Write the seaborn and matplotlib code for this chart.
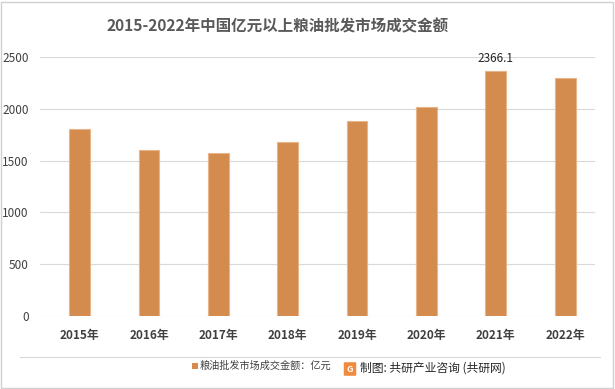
import matplotlib
matplotlib.use("Agg")
import matplotlib.pyplot as plt
import seaborn as sns
import pandas as pd
from matplotlib.patches import Rectangle, FancyBboxPatch

years = ["2015年", "2016年", "2017年", "2018年", "2019年", "2020年", "2021年", "2022年"]
values = [1805, 1602, 1573, 1680, 1882, 2022, 2366.1, 2300]
yticks = [0, 500, 1000, 1500, 2000, 2500]
title = "2015-2022年中国亿元以上粮油批发市场成交金额"
legend_label = "粮油批发市场成交金额：亿元"
source = "制图: 共研产业咨询 (共研网)"

sns.set_theme(style="white")
plt.rcParams['font.family'] = ['Noto Sans CJK SC', 'DejaVu Sans']

df = pd.DataFrame({"year": years, "value": values})

fig = plt.figure(figsize=(6.15, 3.89), dpi=100)
ax = fig.add_axes([40/615, 73/389, 555/615, 259/389])

bar_color = "#D38B4E"
sns.barplot(data=df, x="year", y="value", color=bar_color, width=0.3,
            edgecolor="#E8B48A", linewidth=0.8, ax=ax, saturation=1)

ax.set_ylim(0, 2500)
ax.set_yticks(yticks)
ax.set_yticklabels([str(t) for t in yticks], fontsize=8.5, color="#404040")
ax.set_xlim(-0.57, 7.43)
ax.tick_params(axis='x', labelsize=8.5, colors="#404040", length=0, pad=9)
ax.tick_params(axis='y', length=0, pad=8)
ax.set_xlabel("")
ax.set_ylabel("")
ax.yaxis.grid(True, color="#D9D9D9", linewidth=0.8)
ax.set_axisbelow(True)
for s in ax.spines.values():
    s.set_visible(False)
for lab in ax.get_xticklabels():
    lab.set_fontweight("bold")

# data label on 2021
idx = years.index("2021年")
ax.text(idx, values[idx] + 60, f"{values[idx]:.1f}", ha="center", va="bottom",
        fontsize=8.5, color="#262626")

fig.text(0.452, 1 - 26/389, title, ha="center", va="center", fontsize=11.2,
         fontweight="bold", color="#595959")

# frame around the figure
fig.patches.append(Rectangle((1/615, 1/389), 612/615, 386/389, transform=fig.transFigure,
                             fill=False, edgecolor="#D0D0D0", linewidth=1))
# separator line
fig.add_artist(plt.Line2D([20/615, 600/615], [1 - 357/389, 1 - 357/389],
                          transform=fig.transFigure, color="#D9D9D9", linewidth=0.8))

# legend
fig.patches.append(Rectangle((192/615, 1 - 369/389), 6/615, 6/389, transform=fig.transFigure,
                             facecolor=bar_color, edgecolor="none"))
fig.text(200/615, 1 - 366/389, legend_label, ha="left", va="center", fontsize=7.3,
         color="#404040")

# source logo
fig.patches.append(FancyBboxPatch((345/615, 1 - 375/389), 10/615, 12/389,
                                  boxstyle="round,pad=0.002", transform=fig.transFigure,
                                  facecolor="#F08A3C", edgecolor="none"))
fig.text(350/615, 1 - 369/389, "G", ha="center", va="center", fontsize=6.5,
         color="white", fontweight="bold")
fig.text(360/615, 1 - 368/389, source, ha="left", va="center", fontsize=8.5,
         color="#262626")

fig.savefig("out.png", dpi=100)
